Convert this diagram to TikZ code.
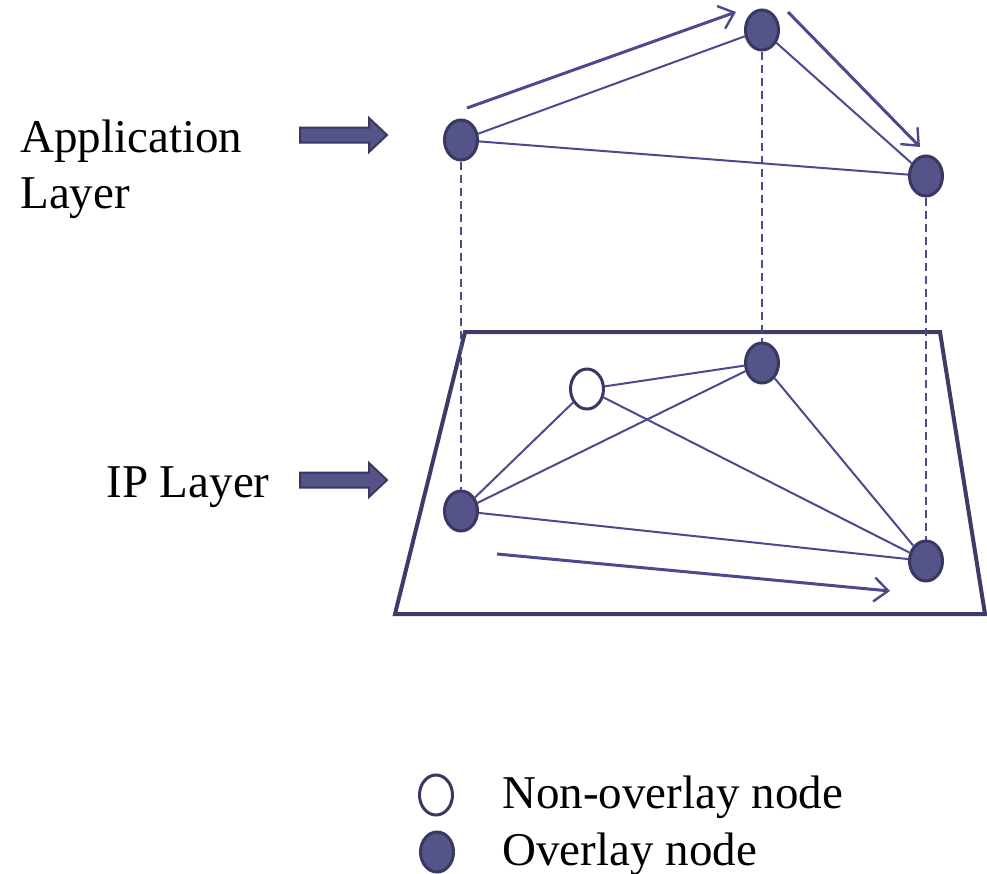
\documentclass[tikz,border=0pt]{standalone}
\usepackage{fontspec}
\setmainfont{Liberation Serif}
\usetikzlibrary{shapes.geometric,arrows.meta}

\definecolor{nodefill}{RGB}{84,84,136}
\definecolor{nodeedge}{RGB}{56,56,98}
\definecolor{linkcol}{RGB}{74,74,140}
\definecolor{framecol}{RGB}{60,60,104}

\tikzset{
  overlay/.style={ellipse, draw=nodeedge, fill=nodefill, line width=1.5pt,
                  minimum width=16.5pt, minimum height=20pt, inner sep=0pt},
  nonoverlay/.style={overlay, fill=white},
  link/.style={draw=linkcol, line width=1pt},
  flow/.style={draw=linkcol, line width=1.5pt,
               -{Straight Barb[length=7pt,width=12pt,line width=1.2pt]}},
  vlink/.style={draw=linkcol, line width=0.8pt, dash pattern=on 4pt off 2.5pt},
  pointer/.style={fill=nodefill, draw=nodeedge, line width=1pt},
  label/.style={font=\fontsize{23.5}{28}\selectfont, inner sep=0pt}
}

\begin{document}
\begin{tikzpicture}[x=0.5pt, y=-0.5pt]
  \useasboundingbox (0,0) rectangle (987,874);

  % IP layer plane
  \draw[framecol, line width=2pt, line join=miter]
    (465,332) -- (940,332) -- (985,614) -- (395,614) -- cycle;

  % application layer nodes
  \node[overlay] (a1) at (461,140) {};
  \node[overlay] (a2) at (762,30) {};
  \node[overlay] (a3) at (926,176) {};

  % IP layer nodes
  \node[overlay] (b1) at (461,511) {};
  \node[overlay] (b2) at (762,363) {};
  \node[overlay] (b3) at (926,561) {};
  \node[nonoverlay] (w) at (587,389) {};

  % overlay links
  \draw[link] (a1) -- (a2);
  \draw[link] (a2) -- (a3);
  \draw[link] (a1) -- (a3);

  % physical links
  \draw[link] (w) -- (b2);
  \draw[link] (w) -- (b1);
  \draw[link] (w) -- (b3);
  \draw[link] (b1) -- (b2);
  \draw[link] (b2) -- (b3);
  \draw[link] (b1) -- (b3);

  % mapping between the layers
  \draw[vlink] (a1.south) -- (b1.north);
  \draw[vlink] (a2.south) -- (b2.north);
  \draw[vlink] (a3.south) -- (b3.north);

  % message paths
  \coordinate (f1s) at (467,108);
  \coordinate (f1e) at (736,12);
  \coordinate (f2s) at (788,12);
  \coordinate (f2e) at (920,147);
  \coordinate (f3s) at (497,554);
  \coordinate (f3e) at (890,591);
  \draw[flow] (f1s) -- (f1e);
  \draw[flow] (f2s) -- (f2e);
  \draw[flow] (f3s) -- (f3e);

  % layer pointers
  \draw[pointer] (300,127.5) -- (369,127.5) -- (369,118) -- (387,135)
    -- (369,152) -- (369,142.5) -- (300,142.5) -- cycle;
  \draw[pointer] (300,472.5) -- (369,472.5) -- (369,463) -- (387,480)
    -- (369,497) -- (369,487.5) -- (300,487.5) -- cycle;

  % layer labels
  \node[label, anchor=base west] (tapp) at (20,152) {Application};
  \node[label, anchor=base west] (tlay) at (20,208) {Layer};
  \node[label, anchor=base west] (tip) at (106,497) {IP Layer};

  % legend
  \node[nonoverlay] (lw) at (436,795) {};
  \node[overlay] (lf) at (437,852) {};
  \node[label, anchor=base west] (tlw) at (502,808) {Non-overlay node};
  \node[label, anchor=base west] (tlf) at (502,865) {Overlay node};
\end{tikzpicture}
\end{document}
